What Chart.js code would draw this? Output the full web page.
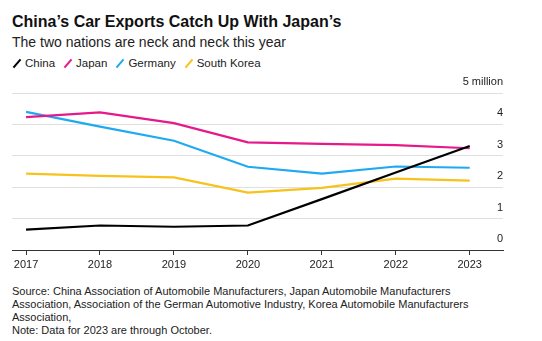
<!DOCTYPE html>
<html lang="en">
<head>
    <meta charset="UTF-8">
    <title>China's Car Exports</title>
    <script src="https://cdn.jsdelivr.net/npm/chart.js"></script>
    <style>
        body {
            font-family: "Liberation Sans", Arial, sans-serif;
            margin: 0;
            background: #fff;
            color: #111;
            width: 542px;
            height: 341px;
            position: relative;
            overflow: hidden;
        }
        .title {
            position: absolute; left: 12px; top: 12px;
            font-size: 16px; font-weight: bold; line-height: 20px;
            color: #111;
        }
        .subtitle {
            position: absolute; left: 12px; top: 33px;
            font-size: 14px; line-height: 18px; color: #222;
        }
        #legend {
            position: absolute; left: 12px; top: 56px;
            font-size: 11.5px; line-height: 14px; color: #222;
            white-space: nowrap;
        }
        #legend .item { display: inline-block; margin-right: 8px; }
        #legend .mk {
            display: inline-block;
            width: 2px; height: 11px;
            margin: 0 7px 0 4px;
            vertical-align: -2px;
            transform: rotate(40deg);
        }
        .chart-box {
            position: absolute; left: 0; top: 72px;
            width: 542px; height: 200px;
        }
        .note {
            position: absolute; left: 12px; top: 285px;
            font-size: 11px; line-height: 13px; color: #222;
            white-space: nowrap;
        }
    </style>
</head>
<body>
    <div class="title">China’s Car Exports Catch Up With Japan’s</div>
    <div class="subtitle">The two nations are neck and neck this year</div>
    <div id="legend"></div>

    <div class="chart-box"><canvas id="exports"></canvas></div>

    <div class="note">
        Source: China Association of Automobile Manufacturers, Japan Automobile Manufacturers<br>
        Association, Association of the German Automotive Industry, Korea Automobile Manufacturers<br>
        Association,<br>
        Note: Data for 2023 are through October.
    </div>

    <script>
        // vehicle exports, millions of units
        const years = [2017, 2018, 2019, 2020, 2021, 2022, 2023];
        const china = [0.65, 0.78, 0.74, 0.78, 1.62, 2.47, 3.31];
        const japan = [4.23, 4.38, 4.04, 3.43, 3.38, 3.34, 3.24];
        const germany = [4.40, 3.93, 3.48, 2.65, 2.43, 2.66, 2.62];
        const southKorea = [2.43, 2.36, 2.31, 1.83, 1.98, 2.27, 2.21];

        const series = [
            { name: 'China', values: china, color: '#000000' },
            { name: 'Japan', values: japan, color: '#e5198a' },
            { name: 'Germany', values: germany, color: '#1eaaf1' },
            { name: 'South Korea', values: southKorea, color: '#f8c21c' }
        ];

        const legend = document.getElementById('legend');
        series.forEach(s => {
            const item = document.createElement('span');
            item.className = 'item';
            item.innerHTML = `<span class="mk" style="background:${s.color}"></span>${s.name}`;
            legend.appendChild(item);
        });

        new Chart(document.getElementById('exports'), {
            type: 'line',
            data: {
                datasets: series.map(s => ({
                    label: s.name,
                    data: years.map((y, i) => ({ x: y, y: s.values[i] })),
                    borderColor: s.color,
                    borderWidth: 2.2,
                    pointRadius: 0,
                    tension: 0
                }))
            },
            options: {
                responsive: true,
                maintainAspectRatio: false,
                animation: false,
                layout: { padding: { left: 12, top: 21, right: 0, bottom: 0 } },
                plugins: {
                    legend: { display: false },
                    tooltip: { enabled: false }
                },
                scales: {
                    x: {
                        type: 'linear',
                        min: 2016.81,
                        max: 2023.45,
                        afterFit: scale => { scale.height = 22; },
                        border: { color: '#333', width: 1 },
                        grid: { drawOnChartArea: false, drawTicks: true, tickLength: 5, color: '#333' },
                        ticks: {
                            stepSize: 1,
                            includeBounds: false,
                            autoSkip: false,
                            maxRotation: 0,
                            padding: 3,
                            color: '#222',
                            font: { family: '"Liberation Sans", Arial, sans-serif', size: 11 },
                            callback: v => String(v)
                        }
                    },
                    y: {
                        position: 'right',
                        min: 0,
                        max: 5,
                        afterFit: scale => { scale.width = 39; },
                        border: { display: false },
                        grid: { color: '#e0e0e0', drawTicks: false },
                        ticks: {
                            stepSize: 1,
                            mirror: true,
                            padding: 0,
                            labelOffset: -11,
                            color: '#222',
                            font: { family: '"Liberation Sans", Arial, sans-serif', size: 11 },
                            callback: v => v === 5 ? '5 million' : String(v)
                        }
                    }
                }
            }
        });
    </script>
</body>
</html>
